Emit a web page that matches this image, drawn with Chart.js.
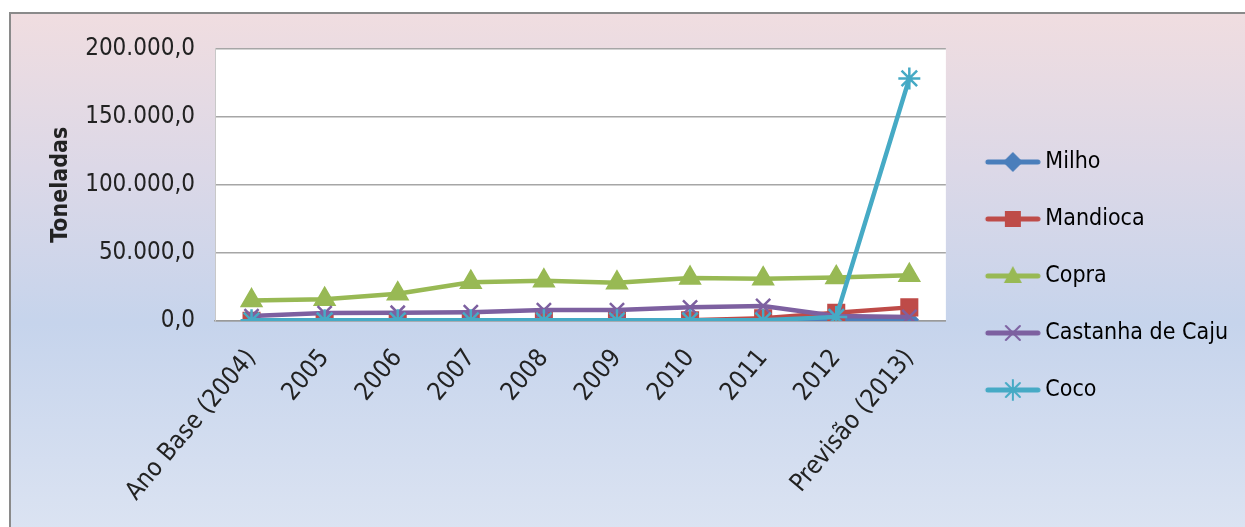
<!DOCTYPE html>
<html>
<head>
<meta charset="utf-8">
<script src="https://cdn.jsdelivr.net/npm/chart.js@4/dist/chart.umd.min.js"></script>
<style>
  html, body { margin: 0; padding: 0; background: #fff; }
  #frame {
    position: absolute; left: 9px; top: 12px;
    width: 1236px; height: 515px;
    border-left: 2px solid #8a8a8a; border-top: 2px solid #8a8a8a;
    background: linear-gradient(to bottom, #f0dde0 0%, #dcd8e7 30%, #c6d4ec 60%, #dbe3f2 100%);
  }
  #wrap { position: absolute; left: 0; top: 0; width: 1234px; height: 513px; }
</style>
</head>
<body>
<div id="frame"><div id="wrap"><canvas id="producao-chart"></canvas></div></div>
<script>
const labels = ['Ano Base (2004)', '2005', '2006', '2007', '2008', '2009', '2010', '2011', '2012', 'Previsão (2013)'];
const milho = [400, 400, 500, 500, 500, 600, 600, 700, 800, 900];
const mandioca = [200, 200, 200, 300, 300, 300, 500, 2000, 6000, 10000];
const copra = [15000, 16000, 20000, 28500, 29500, 28000, 31500, 31000, 32000, 33500];
const castanha = [3600, 5800, 6000, 6500, 8000, 8000, 10000, 11000, 3600, 3000];
const coco = [500, 500, 500, 500, 500, 500, 500, 500, 3000, 178000];
const yTicks = [0, 50000, 100000, 150000, 200000];

const fontFamily = "'Liberation Sans Narrow', 'DejaVu Sans Condensed', 'Noto Sans', sans-serif";
const textColor = '#222';

function fmt(v) {
    const s = Math.round(v).toString().replace(/\B(?=(\d{3})+(?!\d))/g, '.');
    return s + ',0';
}

function marker(c, style, x, y, r, color) {
    c.fillStyle = color;
    c.strokeStyle = color;
    c.lineWidth = 2;
    c.beginPath();
    if (style === 'rectRot') {
        c.moveTo(x, y - r); c.lineTo(x + r, y); c.lineTo(x, y + r); c.lineTo(x - r, y); c.closePath(); c.fill();
    } else if (style === 'rect') {
        c.fillRect(x - r * 0.8, y - r * 0.8, r * 1.6, r * 1.6);
    } else if (style === 'triangle') {
        c.moveTo(x, y - r); c.lineTo(x + r * 0.9, y + r * 0.7); c.lineTo(x - r * 0.9, y + r * 0.7); c.closePath(); c.fill();
    } else if (style === 'crossRot') {
        c.moveTo(x - r * 0.7, y - r * 0.7); c.lineTo(x + r * 0.7, y + r * 0.7);
        c.moveTo(x + r * 0.7, y - r * 0.7); c.lineTo(x - r * 0.7, y + r * 0.7); c.stroke();
    } else if (style === 'star') {
        c.moveTo(x - r * 0.7, y - r * 0.7); c.lineTo(x + r * 0.7, y + r * 0.7);
        c.moveTo(x + r * 0.7, y - r * 0.7); c.lineTo(x - r * 0.7, y + r * 0.7);
        c.moveTo(x, y - r); c.lineTo(x, y + r); c.stroke();
    }
}

// legend icon: line + marker, drawn on the right part of a wider transparent canvas
function legendIcon(color, style) {
    const cv = document.createElement('canvas');
    cv.width = 68; cv.height = 26;
    const c = cv.getContext('2d');
    c.strokeStyle = color;
    c.lineWidth = 5;
    c.lineCap = 'round';
    c.beginPath(); c.moveTo(15, 13); c.lineTo(65, 13); c.stroke();
    marker(c, style, 40, 13, 10, color);
    return cv;
}

function serie(label, values, color, style, radius, order) {
    return {
        label: label,
        data: values,
        borderColor: color,
        backgroundColor: color,
        borderWidth: 4.5,
        pointStyle: style,
        pointRadius: radius,
        pointBorderWidth: 2.5,
        pointHoverRadius: radius,
        tension: 0,
        order: order
    };
}

const data = {
    labels: labels,
    datasets: [
        serie('Milho', milho, '#4a7ebb', 'rectRot', 8, 5),
        serie('Mandioca', mandioca, '#be4b48', 'rect', 11, 4),
        serie('Copra', copra, '#98b954', 'triangle', 11, 3),
        serie('Castanha de Caju', castanha, '#7d60a0', 'crossRot', 10, 2),
        serie('Coco', coco, '#46aac5', 'star', 11, 1)
    ]
};

// white plot area like the Excel chart
const plotBackground = {
    id: 'plotBackground',
    beforeDraw(chart) {
        const a = chart.chartArea;
        const c = chart.ctx;
        c.save();
        c.fillStyle = '#ffffff';
        c.fillRect(a.left, a.top, a.right - a.left, a.bottom - a.top);
        c.restore();
    }
};

const producaoChart = {
    type: 'line',
    data: data,
    plugins: [plotBackground],
    options: {
        responsive: false,
        animation: false,
        maintainAspectRatio: false,
        layout: { padding: { top: 22, right: 7, bottom: 11, left: 36 } },
        plugins: {
            tooltip: { enabled: false },
            legend: {
                position: 'right',
                labels: {
                    usePointStyle: true,
                    pointStyleWidth: 54,
                    padding: 34,
                    color: textColor,
                    font: { family: fontFamily, size: 23 },
                    generateLabels(chart) {
                        return chart.data.datasets.map((ds, i) => ({
                            text: ds.label,
                            fillStyle: ds.borderColor,
                            strokeStyle: ds.borderColor,
                            lineWidth: 0,
                            pointStyle: legendIcon(ds.borderColor, ds.pointStyle),
                            hidden: false,
                            datasetIndex: i
                        }));
                    }
                }
            }
        },
        scales: {
            x: {
                offset: true,
                afterFit(scale) { scale.height = 195; },
                grid: { display: false, drawTicks: false },
                border: { display: true, color: '#9a9a9a', width: 1.5 },
                ticks: {
                    color: textColor,
                    font: { family: fontFamily, size: 25 },
                    minRotation: 50,
                    maxRotation: 50,
                    padding: 23
                }
            },
            y: {
                min: 0,
                max: 200000,
                afterBuildTicks(scale) {
                    scale.ticks = yTicks.map(v => ({ value: v }));
                },
                afterFit(scale) { scale.width = 168; },
                grid: { color: '#a6a6a6', lineWidth: 1.5, drawTicks: false },
                border: { display: true, color: '#c8c8c8', width: 1 },
                title: {
                    display: true,
                    text: 'Toneladas',
                    color: textColor,
                    font: { family: fontFamily, size: 23, weight: 'bold' },
                    padding: { top: 0, bottom: 0 }
                },
                ticks: {
                    color: textColor,
                    font: { family: fontFamily, size: 24 },
                    padding: 20,
                    callback: v => fmt(v)
                }
            }
        }
    }
};

const cv = document.getElementById('producao-chart');
cv.width = 1234;
cv.height = 513;
new Chart(cv.getContext('2d'), producaoChart);
</script>
</body>
</html>
